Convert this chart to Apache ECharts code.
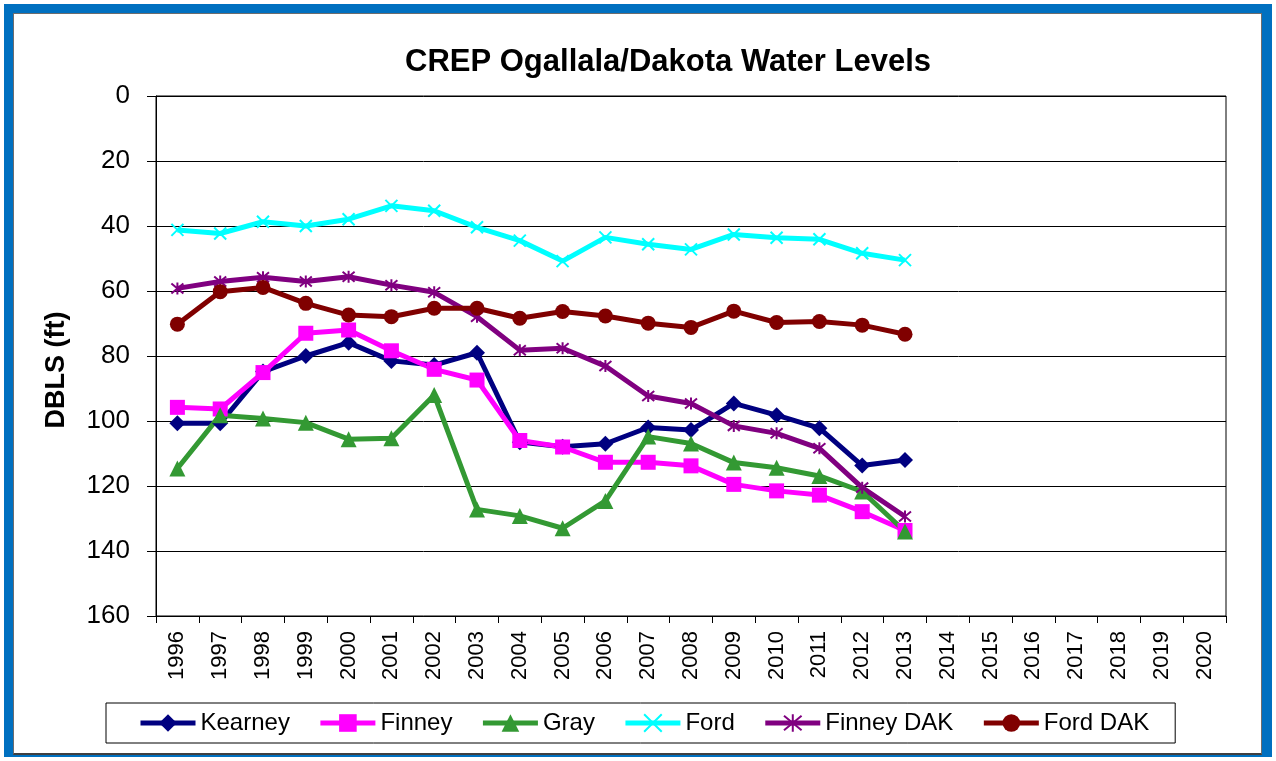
<!DOCTYPE html>
<html>
<head>
<meta charset="utf-8">
<script src="https://cdn.jsdelivr.net/npm/echarts@6/dist/echarts.min.js"></script>
<style>
html,body{margin:0;padding:0;background:#fff;}
#frame{position:absolute;left:4px;top:4px;width:1249px;height:742px;border-left:9px solid #0070C0;border-top:9px solid #0070C0;border-right:10px solid #0070C0;border-bottom:2px solid #0070C0;}
#inner{position:absolute;left:0;top:0;right:0;bottom:0;border:1px solid #6d6d6d;border-bottom:2px solid #404040;}
#chart{position:absolute;left:0;top:0;width:1276px;height:761px;}
</style>
</head>
<body>
<div id="frame"><div id="inner"></div></div>
<div id="chart"></div>
<script>
const categories = ['1996','1997','1998','1999','2000','2001','2002','2003','2004','2005','2006','2007','2008','2009','2010','2011','2012','2013','2014','2015','2016','2017','2018','2019','2020'];
const kearney   = [100.7,100.7,84.8,80,75.9,81.5,82.8,79,106.5,107.9,107,102,102.8,94.6,98.2,102.2,113.7,112];
const finney    = [95.8,96.3,85.1,73,72,78.4,84.1,87.4,106,108,112.7,112.7,113.8,119.5,121.5,122.8,127.9,133.7];
const gray      = [114.6,98.2,99.2,100.5,105.6,105.3,92,127.2,129.2,133,124.6,104.8,106.9,112.8,114.4,116.9,121.7,134];
const ford      = [41.2,42.3,38.7,40,37.9,33.8,35.3,40.4,44.5,50.8,43.5,45.6,47.2,42.6,43.6,44.1,48.4,50.5];
const finneyDak = [59.2,57.1,55.8,57.1,55.6,58.2,60.4,67.9,78.2,77.6,83.1,92.3,94.6,101.5,103.8,108.4,120.5,129.4];
const fordDak   = [70.2,60.2,58.9,63.8,67.4,67.9,65.3,65.3,68.4,66.3,67.7,69.9,71.2,66.2,69.7,69.4,70.5,73.3];
const yTicks = [0,20,40,60,80,100,120,140,160];

const FONT = "'Liberation Sans', Arial, sans-serif";
const CROSS = 'path://M0,0L10,10M10,0L0,10';
const STAR = 'path://M0,0L10,10M10,0L0,10M5,-1L5,11';

function mk(name, data, color, symbol, size, stroke) {
  return {
    name: name, type: 'line', data: data,
    symbol: symbol, symbolSize: size,
    lineStyle: {color: color, width: 5},
    itemStyle: stroke ? {color: color, borderColor: color, borderWidth: 2} : {color: color, borderWidth: 0},
    emphasis: {disabled: true},
    animation: false
  };
}

const chart = echarts.init(document.getElementById('chart'));
chart.setOption({
  backgroundColor: 'transparent',
  animation: false,
  title: {
    text: 'CREP Ogallala/Dakota Water Levels',
    left: 400, top: 42,
    textStyle: {fontFamily: FONT, fontSize: 31, fontWeight: 'bold', color: '#000'}
  },
  grid: {left: 156, right: 50, top: 96, bottom: 145, show: true, borderColor: '#000', borderWidth: 1, containLabel: false},
  xAxis: {
    type: 'category', data: categories, boundaryGap: true,
    axisLine: {onZero: false, lineStyle: {color: '#000', width: 1}},
    axisTick: {show: true, interval: 0, length: 7, lineStyle: {color: '#000'}},
    axisLabel: {interval: 0, rotate: 90, fontFamily: FONT, fontSize: 22, color: '#000', margin: 15},
    splitLine: {show: false}
  },
  yAxis: {
    type: 'value', inverse: true, min: 0, max: 160, interval: 20,
    name: 'DBLS (ft)', nameLocation: 'middle', nameRotate: 90, nameGap: 86,
    nameTextStyle: {fontFamily: FONT, fontSize: 27, fontWeight: 'bold', color: '#000', padding: [0, 28, 0, 0]},
    axisLine: {show: true, lineStyle: {color: '#000', width: 1}},
    axisTick: {show: true, length: 9, lineStyle: {color: '#000'}},
    axisLabel: {fontFamily: FONT, fontSize: 26, color: '#000', margin: 26,
      formatter: function (v) { return yTicks.indexOf(v) >= 0 ? String(v) : ''; }},
    splitLine: {show: true, lineStyle: {color: '#000', width: 1}}
  },
  legend: {
    bottom: 18, left: 106,
    orient: 'horizontal',
    borderColor: '#000', borderWidth: 1,
    padding: [8, 26, 8, 32],
    itemGap: 28, itemWidth: 55, itemHeight: 22,
    lineStyle: {width: 5},
    textStyle: {fontFamily: FONT, fontSize: 24, color: '#000'},
    data: ['Kearney','Finney','Gray','Ford','Finney DAK','Ford DAK']
  },
  series: [
    mk('Kearney', kearney, '#000080', 'diamond', 16, false),
    mk('Finney', finney, '#FF00FF', 'rect', 15, false),
    mk('Gray', gray, '#339933', 'triangle', 16, false),
    mk('Ford', ford, '#00FFFF', CROSS, 12, true),
    mk('Finney DAK', finneyDak, '#800080', STAR, 12, true),
    mk('Ford DAK', fordDak, '#800000', 'circle', 15, false)
  ]
});
</script>
</body>
</html>
